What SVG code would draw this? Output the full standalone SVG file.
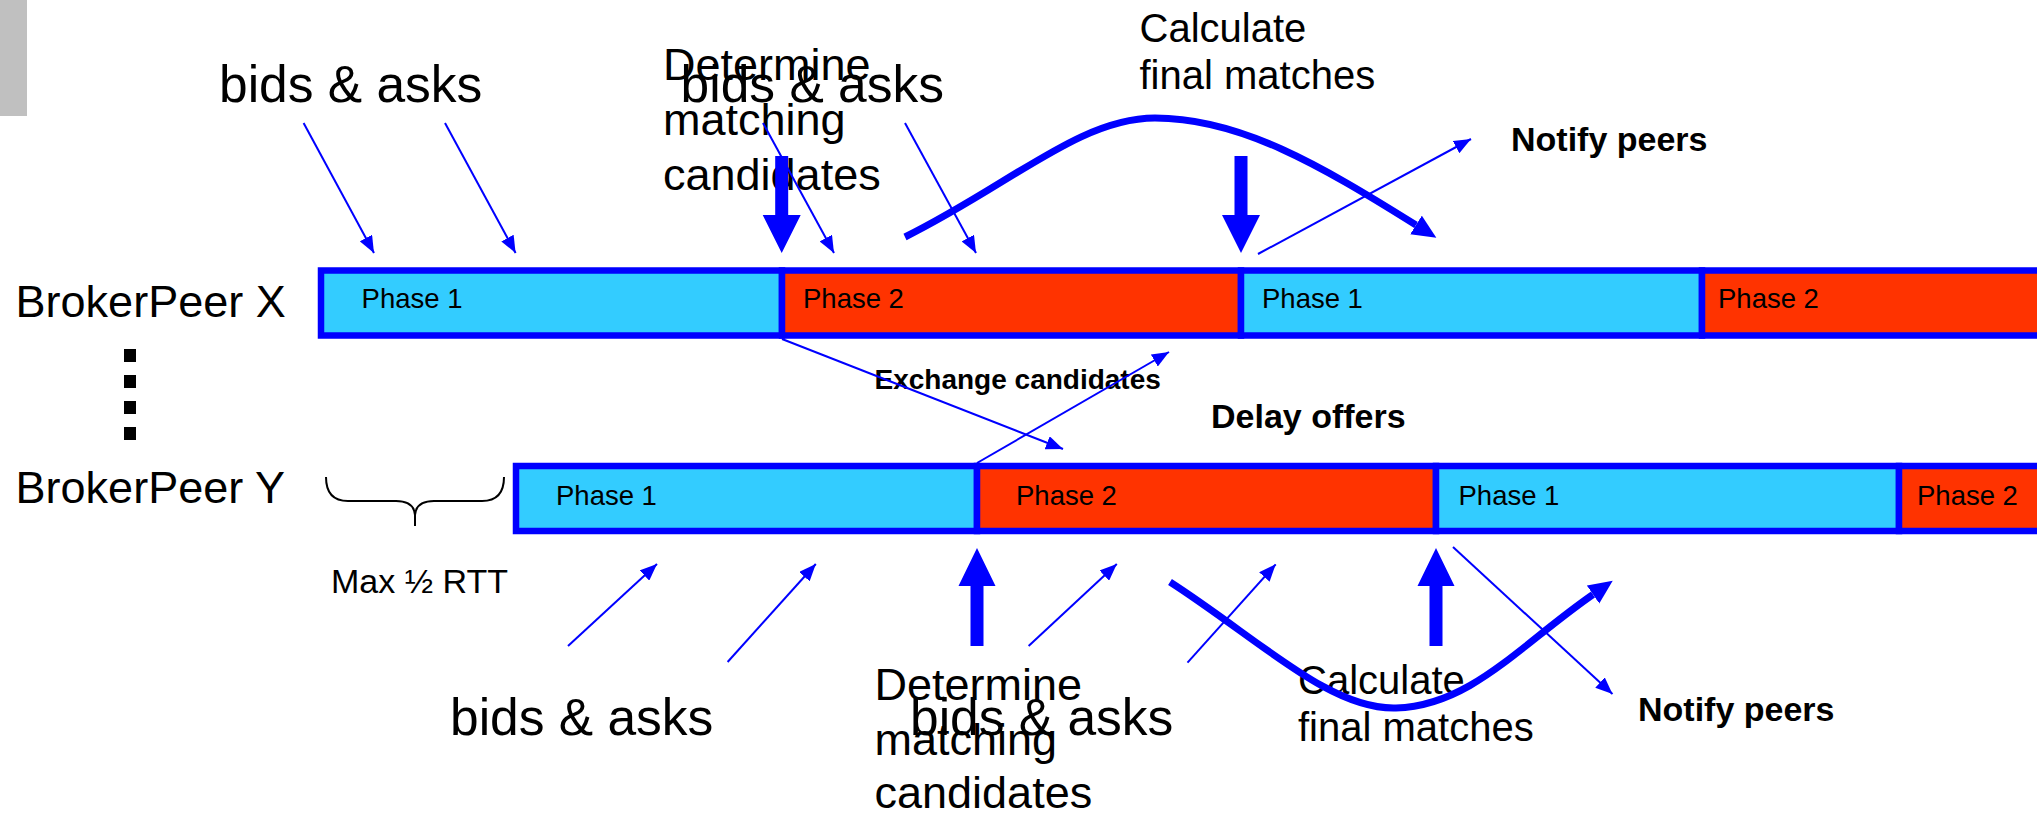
<svg xmlns="http://www.w3.org/2000/svg" width="2044" height="815" viewBox="0 0 2044 815">
<defs>
<style>
text{font-family:"Liberation Sans",Arial,Helvetica,sans-serif;fill:#000}
.big{font-size:51.5px}
.det{font-size:45px}
.calc{font-size:40px}
.peer{font-size:45px}
.ph{font-size:27.5px}
.bold{font-weight:bold;font-size:34px}
.bold2{font-weight:bold;font-size:28px}
.rtt{font-size:34px}
.p1{fill:#33CCFF;stroke:#0000FF;stroke-width:6.5}
.p2{fill:#FF3300;stroke:#0000FF;stroke-width:6.5}
.thin{fill:none;stroke:#0000FF;stroke-width:2;marker-end:url(#ah)}
.thick{fill:none;stroke:#0000FF;stroke-width:7;marker-end:url(#ahb)}
.block{fill:#0000FF}
</style>
<marker id="ah" markerUnits="userSpaceOnUse" markerWidth="20" markerHeight="14" refX="17" refY="7" orient="auto">
<path d="M0,0 L17,7 L0,14 z" fill="#0000FF"/>
</marker>
<marker id="ahb" markerUnits="userSpaceOnUse" markerWidth="26" markerHeight="24" refX="0" refY="11" orient="auto">
<path d="M0,0 L24,11 L0,22 z" fill="#0000FF"/>
</marker>
<clipPath id="clipbar"><rect x="0" y="0" width="2037" height="815"/></clipPath>
</defs>
<rect id="sidebar" x="0" y="0" width="27" height="116" fill="#C0C0C0"/>

<g id="peerX">
<text class="peer" x="15.6" y="317">BrokerPeer X</text>
<g clip-path="url(#clipbar)">
<g id="x-phase1a"><rect class="p1" x="321" y="270.5" width="461" height="65"/><text class="ph" x="361.6" y="308">Phase 1</text></g>
<g id="x-phase2a"><rect class="p2" x="782" y="270.5" width="459" height="65"/><text class="ph" x="803" y="308">Phase 2</text></g>
<g id="x-phase1b"><rect class="p1" x="1241" y="270.5" width="461" height="65"/><text class="ph" x="1262" y="308">Phase 1</text></g>
<g id="x-phase2b"><rect class="p2" x="1702" y="270.5" width="400" height="65"/><text class="ph" x="1718" y="308">Phase 2</text></g>
</g>
</g>

<g id="dots">
<rect x="124" y="349" width="12" height="13" fill="#000"/>
<rect x="124" y="375" width="12" height="13" fill="#000"/>
<rect x="124" y="401" width="12" height="13" fill="#000"/>
<rect x="124" y="427" width="12" height="13" fill="#000"/>
</g>

<g id="peerY">
<text class="peer" x="15.6" y="503.3">BrokerPeer Y</text>
<g clip-path="url(#clipbar)">
<g id="y-phase1a"><rect class="p1" x="516" y="466" width="461" height="65"/><text class="ph" x="556" y="505">Phase 1</text></g>
<g id="y-phase2a"><rect class="p2" x="977" y="466" width="459" height="65"/><text class="ph" x="1016" y="505">Phase 2</text></g>
<g id="y-phase1b"><rect class="p1" x="1436" y="466" width="463" height="65"/><text class="ph" x="1458.5" y="505">Phase 1</text></g>
<g id="y-phase2b"><rect class="p2" x="1899" y="466" width="200" height="65"/><text class="ph" x="1917" y="505">Phase 2</text></g>
</g>
</g>

<g id="rtt">
<path d="M326,477 Q326,501 348,501 L396,501 Q414,501 415,515 L415,526 M415,515 Q416,501 434,501 L482,501 Q504,501 504,477" fill="none" stroke="#000" stroke-width="2"/>
<text class="rtt" x="331" y="593">Max ½ RTT</text>
</g>

<g id="labels">
<text class="big" x="219" y="102">bids &amp; asks</text>
<text class="det" x="663" y="80">Determine</text>
<text class="det" x="663" y="135">matching</text>
<text class="det" x="663" y="190">candidates</text>
<text class="big" x="680.6" y="102">bids &amp; asks</text>
<text class="calc" x="1139.5" y="42">Calculate</text>
<text class="calc" x="1139.5" y="89">final matches</text>
<text class="bold" x="1511" y="150.7">Notify peers</text>
<text class="bold2" x="874.5" y="389">Exchange candidates</text>
<text class="bold" x="1211" y="428">Delay offers</text>
<text class="big" x="450" y="735">bids &amp; asks</text>
<text class="det" x="874.5" y="700">Determine</text>
<text class="det" x="874.5" y="755">matching</text>
<text class="det" x="874.5" y="808">candidates</text>
<text class="big" x="910" y="735">bids &amp; asks</text>
<text class="calc" x="1298" y="694">Calculate</text>
<text class="calc" x="1298" y="741">final matches</text>
<text class="bold" x="1638" y="720.7">Notify peers</text>
</g>

<g id="connectors">
<line class="thin" x1="303.6" y1="123" x2="374" y2="253"/>
<line class="thin" x1="445" y1="123" x2="515.6" y2="253"/>
<line class="thin" x1="763" y1="123" x2="834" y2="253"/>
<line class="thin" x1="905" y1="123" x2="976" y2="253"/>
<line class="thin" x1="1258" y1="254" x2="1471" y2="139"/>
<line class="thin" x1="782" y1="339" x2="1063" y2="449"/>
<line class="thin" x1="977" y1="463" x2="1169" y2="352"/>
<line class="thin" x1="568" y1="646" x2="657" y2="564"/>
<line class="thin" x1="727.6" y1="662" x2="815.8" y2="564"/>
<line class="thin" x1="1028.6" y1="646" x2="1116.8" y2="564"/>
<line class="thin" x1="1187.5" y1="662.7" x2="1275.7" y2="564.3"/>
<line class="thin" x1="1453" y1="547" x2="1612.5" y2="694"/>
<path class="thick" d="M905,237 C1010,185 1080,118 1155,118 C1240,118 1320,165 1416,225"/>
<path class="thick" d="M1170,582 C1260,640 1330,710 1396,708 C1470,706 1520,645 1593,594.5"/>
<polygon class="block" points="775.2,156 788.2,156 788.2,215 800.7,215 781.7,253 762.7,215 775.2,215"/>
<polygon class="block" points="1234.5,156 1247.5,156 1247.5,215 1260,215 1241,253 1222,215 1234.5,215"/>
<polygon class="block" points="970.5,646 983.5,646 983.5,586 995.5,586 977,548 958.5,586 970.5,586"/>
<polygon class="block" points="1429.5,646 1442.5,646 1442.5,586 1454.5,586 1436,548 1417.5,586 1429.5,586"/>
</g>
</svg>
